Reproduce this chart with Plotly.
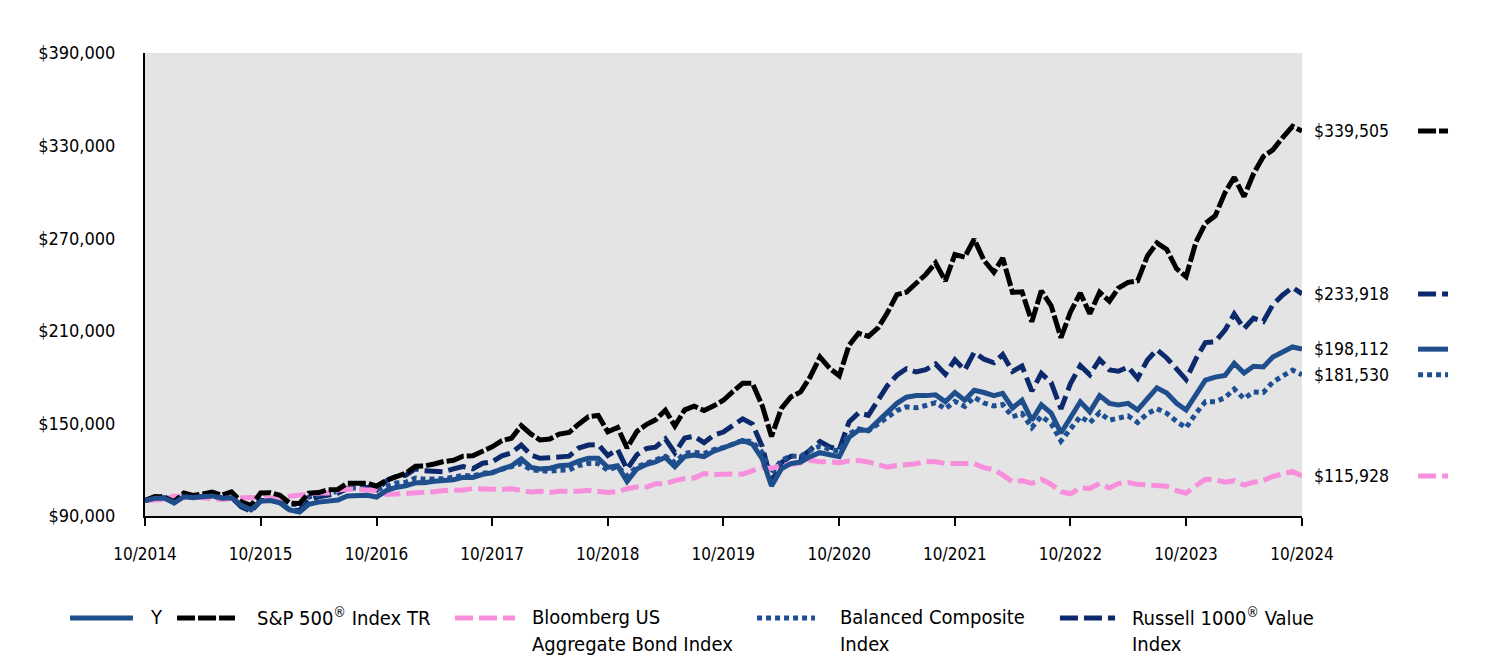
import pandas as pd
import plotly.graph_objects as go

months = pd.date_range("2014-10-01", periods=121, freq="MS")

fund_y = [100000, 101500, 101500, 98500, 102500, 102000, 102500, 103000, 101500, 101800,
          97000, 94000, 99500, 100000, 98500, 94000, 92600, 97500, 99000, 100000,
          100400, 103000, 103600, 103400, 102300, 106500, 108500, 109500, 111500, 111500,
          112500, 113000, 113500, 115000, 115000, 117000, 118000, 120500, 122500, 127000,
          121500, 120500, 121000, 122500, 123000, 125500, 127500, 127500, 121500, 122500,
          112500, 120500, 123500, 125000, 128000, 122000, 128500, 129500, 128500, 132000,
          134000, 136500, 139000, 136500, 127000, 109500, 120500, 124000, 125000, 128500,
          131000, 129500, 128500, 141000, 145500, 145500, 151500, 157000, 163000, 167000,
          168000, 168000, 168500, 164000, 170000, 165000, 171500, 170000, 168000, 169500,
          160000, 165000, 152000, 162000, 156700, 143800, 154500, 164000, 157500, 168000,
          163000, 162000, 163000, 158700, 166000, 173000, 169700, 163000, 158700, 169000,
          178000, 180000, 181000, 189000, 182700, 187000, 186600, 193000, 196500, 199500,
          198112]

sp500 = [100000, 102600, 102300, 99300, 104900, 103300, 104300, 105500, 103500, 105700,
         99200, 96700, 104900, 105100, 103500, 98300, 98100, 104800, 105200, 107000,
         107200, 111200, 111200, 111300, 109300, 113200, 115400, 117700, 122300, 122400,
         123700, 125300, 126100, 128700, 129000, 131700, 134800, 138800, 140400, 148500,
         143000, 139300, 139900, 143100, 144100, 149500, 154300, 155100, 144600, 147400,
         134100, 144800, 149400, 152300, 158500, 148300, 158800, 161100, 158400, 161400,
         165000, 170800, 176000, 176000, 161400, 141500, 159600, 167100, 170400, 180100,
         193000, 185700, 180900, 200600, 208400, 206400, 212100, 221400, 233400, 235000,
         240600, 246500, 254000, 242300, 259400, 257700, 269300, 255600, 247900, 257200,
         234900, 235300, 215900, 235900, 226200, 205500, 222200, 234500, 221000, 235000,
         229200, 237600, 241400, 242400, 258500, 267000, 262700, 250200, 245100, 267400,
         279600, 284500, 299600, 309400, 297000, 311800, 323000, 327200, 335200, 342500,
         339505]

bond_agg = [100000, 100700, 100800, 102900, 101900, 102400, 102000, 101800, 100700, 101400,
            101300, 102000, 102000, 101700, 101400, 102800, 103500, 104500, 104900, 104900,
            106800, 107500, 107300, 107300, 106500, 103900, 104100, 104300, 105000, 104900,
            105700, 106500, 106400, 106900, 107800, 107300, 107400, 107200, 107700, 106500,
            105500, 106100, 105300, 106100, 106000, 106000, 106700, 106000, 105200, 105800,
            107700, 108800, 108800, 110900, 110900, 112900, 114300, 114600, 117500, 116900,
            117300, 117200, 117100, 119300, 121500, 120800, 122900, 123500, 124300, 126100,
            125100, 125100, 124500, 125700, 125900, 125000, 123200, 121700, 122700, 123100,
            123900, 125300, 125100, 124000, 124000, 124300, 124000, 121300, 120000, 116600,
            112200, 112900, 111100, 113800, 110600, 105800, 104400, 108300, 107800, 111100,
            108200, 111000, 111700, 110500, 110100, 110000, 109300, 106500, 104800, 109600,
            113800, 113500, 111900, 112900, 110000, 111900, 113000, 115600, 117300, 118900,
            115928]

balanced = [100000, 101480, 101950, 100360, 102870, 102190, 102480, 103050, 101360, 101890,
            98160, 96660, 101020, 100980, 100060, 97490, 97700, 102280, 103720, 104600,
            105920, 108030, 108500, 108350, 106980, 109620, 111330, 111890, 114610, 113900,
            114120, 114130, 115180, 116270, 115850, 117720, 118240, 120380, 121680, 123970,
            119930, 119090, 118950, 119710, 119790, 122680, 124100, 123930, 119670, 122110,
            115980, 121900, 124220, 125620, 128650, 124620, 130630, 131370, 130450, 133000,
            134280, 136670, 138930, 138170, 131120, 117360, 126080, 128890, 128670, 132450,
            135280, 133220, 131940, 143140, 146490, 145190, 149580, 154130, 158320, 160710,
            160100, 161590, 163400, 159400, 164260, 161010, 166930, 163190, 161280, 162200,
            154290, 156450, 147300, 154660, 149940, 138620, 146470, 154420, 150440, 156980,
            152050, 153140, 154890, 150580, 156330, 159570, 156570, 151310, 147180, 156470,
            164030, 163950, 166670, 172280, 166100, 170420, 170040, 176840, 180730, 184500,
            181530]

russell_value = [100000, 102000, 102700, 98600, 103300, 101900, 102600, 103700, 101600, 102000,
                 95900, 93000, 100000, 100100, 98800, 93700, 93600, 100300, 102400, 103800,
                 104800, 107800, 108700, 108500, 106700, 112800, 115600, 116400, 120600, 119400,
                 119200, 118600, 120500, 122100, 120600, 124200, 125100, 129000, 130900, 136000,
                 129500, 127400, 127800, 128600, 128800, 134000, 136000, 136300, 129200, 133100,
                 120300, 129700, 133800, 134600, 140000, 131000, 140500, 141600, 137500, 142400,
                 144400, 148800, 152900, 149500, 135000, 111900, 124500, 128700, 127800, 132800,
                 138200, 134800, 133000, 151000, 156800, 155200, 164500, 174200, 181200, 185400,
                 183300, 184800, 188500, 181900, 191200, 184500, 196100, 191600, 189300, 194600,
                 183700, 187200, 170900, 182400, 176500, 159400, 175800, 187400, 181500, 191400,
                 184700, 183800, 186500, 179200, 191100, 197800, 192400, 184900, 178400, 191800,
                 202400, 202900, 210400, 220900, 211400, 218200, 216000, 227000, 233200, 238100,
                 233918]

# name lines, values, color, dash, legend sample x-range (paper), legend text x (paper)
series = [
    (["Russell 1000<sup>®</sup> Value", "Index"], russell_value, "#0c2a6b", "18px,6px", (0.7908, 0.8384), 0.8513),
    (["Balanced Composite", "Index"], balanced, "#1f4f93", "5px,4px", (0.5290, 0.5791), 0.5990),
    (["Bloomberg US", "Aggregate Bond Index"], bond_agg, "#f78fdc", "18px,6px", (0.2679, 0.3198), 0.3328),
    (["S&P 500<sup>®</sup> Index TR"], sp500, "#000000", "18px,3px", (0.0277, 0.0778), 0.0951),
    (["Y"], fund_y, "#1f4e8c", "solid", (-0.0648, -0.0104), 0.0026),
]

FONT = "DejaVu Sans Condensed, DejaVu Sans, sans-serif"
LEGEND_LINE_Y = [-0.2181, -0.2754]

fig = go.Figure()
for lines, vals, color, dash, _, _ in series:
    fig.add_trace(go.Scatter(
        x=months, y=vals, mode="lines", name=" ".join(lines),
        line=dict(color=color, width=5, dash=dash),
        showlegend=False,
    ))

annotations = []
shapes = []
for lines, vals, color, dash, (lx0, lx1), tx in series:
    # end-value labels with line keys on the right
    annotations.append(dict(
        x=1.009, xref="paper", y=vals[-1], yref="y",
        text="${:,.0f}".format(vals[-1]), showarrow=False,
        xanchor="left", yanchor="middle",
        font=dict(family=FONT, size=17.5, color="#000000"),
    ))
    shapes.append(dict(
        type="line", xref="paper", yref="y",
        x0=1.1003, x1=1.1262, y0=vals[-1], y1=vals[-1],
        line=dict(color=color, width=5, dash=dash),
    ))
    # bottom legend
    shapes.append(dict(
        type="line", xref="paper", yref="paper",
        x0=lx0, x1=lx1, y0=-0.2203, y1=-0.2203,
        line=dict(color=color, width=5, dash=dash),
    ))
    for i, line_text in enumerate(lines):
        annotations.append(dict(
            x=tx, xref="paper", y=LEGEND_LINE_Y[i], yref="paper",
            text=line_text, showarrow=False, align="left",
            xanchor="left", yanchor="middle",
            font=dict(family=FONT, size=20, color="#000000"),
        ))

# page body has an 8px default margin; figure is sized/margined to compensate
fig.update_layout(
    width=1480, height=652,
    margin=dict(l=137, r=186, t=45, b=144),
    paper_bgcolor="white",
    plot_bgcolor="#e4e4e4",
    font=dict(family=FONT, size=18, color="#000000"),
    showlegend=False,
    annotations=annotations,
    shapes=shapes,
)

fig.update_xaxes(
    range=[months[0], months[-1]],
    tick0=months[0], dtick="M12", tickformat="%m/%Y",
    showline=True, linecolor="#000000", linewidth=2,
    ticks="outside", ticklen=8, tickwidth=2, tickcolor="#000000",
    showgrid=False, zeroline=False,
    ticklabelstandoff=14,
    tickfont=dict(family=FONT, size=17),
)
fig.update_yaxes(
    range=[90000, 390000], tick0=90000, dtick=60000, tickformat="$,.0f",
    showline=True, linecolor="#000000", linewidth=2,
    ticks="", showgrid=False, zeroline=False,
    ticklabelstandoff=24,
    tickfont=dict(family=FONT, size=18),
)

fig.write_html("out.html")
